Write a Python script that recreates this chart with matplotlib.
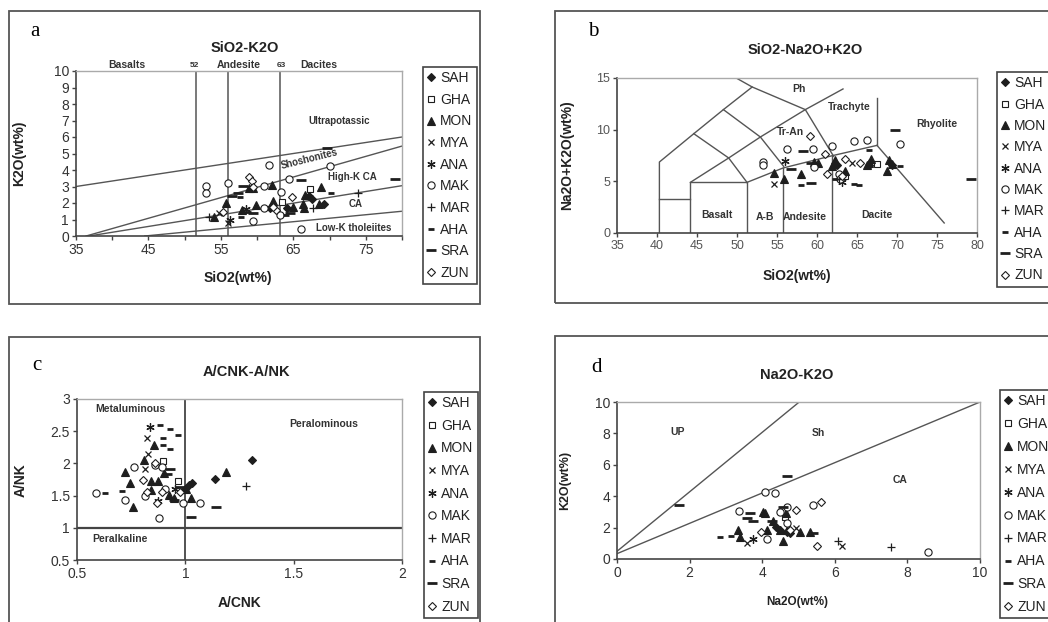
import matplotlib
matplotlib.use("Agg")
import matplotlib.pyplot as plt
from matplotlib.lines import Line2D
from matplotlib.patches import Rectangle

plt.rcParams['font.family'] = ['Liberation Sans', 'DejaVu Sans']

W, H = 1048, 622

# ---- series names ----
names = ["SAH", "GHA", "MON", "MYA", "ANA", "MAK", "MAR", "AHA", "SRA", "ZUN"]

# ---- panel a: SiO2 vs K2O ----
A_SAH = [(67.1, 2.42), (67.6, 2.22), (69.3, 1.92), (61.8, 1.70), (64.1, 1.68)]
A_GHA = [(67.3, 2.83), (63.5, 2.08)]
A_MON = [(55.7, 1.98), (57.9, 1.58), (59.9, 1.88), (62.0, 3.10), (62.2, 2.12),
         (64.9, 1.78), (66.3, 1.94), (66.6, 2.46), (68.8, 3.00), (68.6, 1.94),
         (54.1, 1.17), (58.9, 2.89), (59.5, 2.93), (66.5, 1.68)]
A_MYA = [(54.8, 1.37), (56.0, 0.81)]
A_ANA = [(56.2, 0.97), (58.5, 1.62)]
A_MAK = [(53.0, 3.05), (53.0, 2.60), (56.0, 3.20), (61.7, 4.30), (70.1, 4.25),
         (64.4, 3.45), (63.3, 2.65), (60.9, 3.05), (59.4, 0.93), (66.0, 0.44),
         (63.2, 1.30), (61.0, 1.68)]
A_MAR = [(53.3, 1.13), (73.9, 2.63), (67.7, 1.68)]
A_AHA = [(70.2, 2.58), (57.8, 1.17), (64.0, 1.27), (57.6, 2.38), (58.7, 1.47)]
A_SRA = [(58.0, 3.03), (79.0, 3.43), (69.7, 5.35), (66.1, 3.40), (57.3, 2.58),
         (56.6, 2.44), (59.5, 1.37), (64.5, 1.37)]
A_ZUN = [(58.9, 3.60), (59.3, 3.35), (59.5, 3.00), (64.8, 2.35), (55.3, 1.43),
         (62.6, 1.58), (62.2, 1.78)]

# ---- panel b: SiO2 vs Na2O+K2O ----
B_SAH = [(69.4, 6.6), (66.5, 6.6), (62.5, 6.6)]
B_GHA = [(67.5, 6.7), (63.5, 5.5)]
B_MON = [(54.6, 5.8), (55.9, 5.2), (58.0, 5.7), (60.1, 6.8), (59.6, 6.9),
         (62.1, 6.8), (62.2, 7.1), (61.9, 6.5), (63.5, 6.0), (66.5, 6.8),
         (66.7, 7.2), (66.3, 6.6), (69.0, 7.1), (68.75, 6.0), (69.4, 6.7)]
B_MYA = [(54.6, 4.7), (64.4, 6.8)]
B_ANA = [(56.0, 7.0), (63.1, 4.9)]
B_MAK = [(53.25, 6.87), (53.25, 6.55), (56.25, 8.1), (59.5, 8.1), (61.9, 8.4),
         (64.6, 8.9), (66.25, 9.0), (70.4, 8.6), (59.6, 6.35), (62.8, 5.7),
         (62.9, 5.2)]
B_MAR = [(62.7, 5.2)]
B_AHA = [(58.0, 4.6), (65.2, 4.6), (70.4, 6.5), (62.2, 5.2), (64.6, 4.7), (66.5, 8.0)]
B_SRA = [(69.8, 10.0), (79.2, 5.2), (58.25, 7.9), (59.3, 4.8), (56.75, 6.2), (59.2, 6.8)]
B_ZUN = [(59.1, 9.35), (61.0, 7.6), (61.25, 5.7), (63.5, 7.2), (65.4, 6.8), (63.1, 5.5)]

# ---- panel c: A/CNK vs A/NK ----
C_SAH = [(1.308, 2.06), (1.138, 1.76), (1.031, 1.69), (1.015, 1.66), (0.997, 1.61)]
C_GHA = [(0.966, 1.73), (0.895, 2.03)]
C_MON = [(0.723, 1.86), (0.746, 1.69), (0.757, 1.32), (0.808, 2.05), (0.857, 2.29),
         (0.843, 1.73), (0.874, 1.72), (0.842, 1.59), (0.923, 1.51), (0.946, 1.46),
         (1.028, 1.47), (1.189, 1.87), (1.005, 1.60), (0.900, 1.85)]
C_MYA = [(0.823, 2.40), (0.828, 2.15), (0.815, 1.92)]
C_ANA = [(0.835, 2.56), (0.874, 1.41), (0.954, 1.61)]
C_MAK = [(0.588, 1.54), (0.723, 1.43), (0.762, 1.95), (0.880, 1.15), (0.989, 1.39),
         (1.069, 1.39), (0.815, 1.49), (0.908, 1.61), (0.862, 1.98), (0.892, 1.95)]
C_MAR = [(1.280, 1.65)]
C_AHA = [(0.630, 1.54), (0.708, 1.57), (0.885, 2.60), (0.928, 2.54), (0.966, 2.44),
         (0.895, 2.40), (0.895, 2.29), (0.928, 2.22)]
C_SRA = [(1.028, 1.17), (1.142, 1.32), (0.931, 1.91), (0.915, 1.84), (0.946, 1.43),
         (0.977, 1.64)]
C_ZUN = [(0.805, 1.74), (0.869, 1.38), (0.892, 1.56), (0.862, 2.00), (0.977, 1.56),
         (0.823, 1.56)]

# ---- panel d: Na2O vs K2O ----
D_SAH = [(4.49, 1.86), (4.67, 1.75), (4.76, 1.65), (4.39, 2.07)]
D_GHA = [(4.62, 2.70)]
D_MON = [(3.34, 1.86), (4.03, 3.02), (4.07, 2.92), (4.12, 1.86), (4.29, 2.39),
         (4.49, 1.86), (4.58, 1.12), (4.65, 2.92), (5.04, 1.75), (5.31, 1.75),
         (4.67, 1.86), (3.40, 1.37)]
D_MYA = [(3.59, 1.01), (6.19, 0.85), (4.94, 1.97)]
D_ANA = [(3.75, 1.27)]
D_MAK = [(3.36, 3.04), (4.09, 4.25), (4.35, 4.19), (4.49, 3.02), (4.67, 3.34),
         (5.39, 3.45), (8.58, 0.44), (4.67, 2.28), (4.12, 1.27)]
D_MAR = [(6.09, 1.12), (7.56, 0.76)]
D_AHA = [(2.83, 1.40), (3.15, 1.44)]
D_SRA = [(4.67, 5.31), (1.71, 3.45), (3.66, 2.92), (3.57, 2.60), (3.75, 2.39),
         (5.40, 1.65), (4.58, 3.34), (4.26, 2.39)]
D_ZUN = [(5.63, 3.61), (5.51, 0.80), (4.94, 3.13), (3.96, 1.71), (4.76, 1.86)]

panel_a = [A_SAH, A_GHA, A_MON, A_MYA, A_ANA, A_MAK, A_MAR, A_AHA, A_SRA, A_ZUN]
panel_b = [B_SAH, B_GHA, B_MON, B_MYA, B_ANA, B_MAK, B_MAR, B_AHA, B_SRA, B_ZUN]
panel_c = [C_SAH, C_GHA, C_MON, C_MYA, C_ANA, C_MAK, C_MAR, C_AHA, C_SRA, C_ZUN]
panel_d = [D_SAH, D_GHA, D_MON, D_MYA, D_ANA, D_MAK, D_MAR, D_AHA, D_SRA, D_ZUN]

INK = "#1e1e1e"
LINE = "#555555"

# marker style per series
styles = {
    "SAH": dict(marker="D", ms=4.2, mfc=INK, mec=INK, mew=0.8),
    "GHA": dict(marker="s", ms=5.0, mfc="white", mec=INK, mew=0.8),
    "MON": dict(marker="^", ms=6.0, mfc=INK, mec=INK, mew=0.8),
    "MYA": dict(marker="x", ms=5.0, mfc=INK, mec=INK, mew=0.9),
    "ANA": dict(marker=(6, 2, 0), ms=6.0, mfc=INK, mec=INK, mew=0.9),
    "MAK": dict(marker="o", ms=5.2, mfc="white", mec=INK, mew=0.8),
    "MAR": dict(marker="+", ms=6.0, mfc=INK, mec=INK, mew=0.9),
    "AHA": dict(marker="_", ms=4.0, mfc=INK, mec=INK, mew=2.0),
    "SRA": dict(marker="_", ms=7.0, mfc=INK, mec=INK, mew=2.0),
    "ZUN": dict(marker="D", ms=4.2, mfc="white", mec=INK, mew=0.8),
}


def fx(x):
    return x / W


def fy(y):
    return 1 - y / H


def rect(l, t, r, b):
    return [fx(l), fy(b), (r - l) / W, (b - t) / H]


fig = plt.figure(figsize=(W / 100, H / 100), dpi=100)

# panel frames
for l, t, r, b in [(9, 11, 480, 304), (555, 11, 1060, 303),
                   (9, 337, 480, 640), (555, 336, 1060, 640)]:
    fig.patches.append(Rectangle((fx(l), fy(b)), (r - l) / W, (b - t) / H,
                                 transform=fig.transFigure, fill=False,
                                 ec=LINE, lw=1.3))


def style_axes(ax):
    for s in ["left", "bottom"]:
        ax.spines[s].set_color("#444444")
        ax.spines[s].set_linewidth(1.2)
    for s in ["top", "right"]:
        ax.spines[s].set_color("#aaaaaa")
        ax.spines[s].set_linewidth(1.0)
    ax.tick_params(direction="out", length=3, width=1, color="#444444",
                   labelsize=10, labelcolor="#333333", pad=2)


def scatter(ax, groups):
    handles = []
    for name, pts in zip(names, groups):
        xs = [p[0] for p in pts]
        ys = [p[1] for p in pts]
        ax.plot(xs, ys, ls="none", clip_on=False, **styles[name])
        handles.append(Line2D([], [], ls="none", label=name, **styles[name]))
    return handles


def add_legend(ax, handles, left, top, spacing):
    leg = ax.legend(handles=handles, loc="upper left",
                    bbox_to_anchor=(fx(left), fy(top)),
                    bbox_transform=fig.transFigure, frameon=True,
                    fancybox=False, edgecolor="#444444", framealpha=1,
                    fontsize=10, handlelength=0.6, handletextpad=0.35,
                    borderpad=0.3, labelspacing=spacing, borderaxespad=0)
    leg.get_frame().set_linewidth(1.2)
    for t in leg.get_texts():
        t.set_color("#222222")


def label(x, y, s, **kw):
    fig.text(fx(x), fy(y), s, ha="center", va="center", **kw)


bold = dict(fontweight="bold", color="#222222")

# ================= panel a =================
ax = fig.add_axes(rect(76, 71, 402, 236))
style_axes(ax)
ax.set_xlim(35, 80)
ax.set_ylim(0, 10)
ax.set_xticks(range(35, 81, 5))
ax.set_xticklabels([str(v) if (v - 35) % 10 == 0 else "" for v in range(35, 81, 5)])
ax.set_yticks(range(0, 11))
for xv in [51.6, 56.0, 63.2]:
    ax.axvline(xv, color=LINE, lw=1.1)
for xs, ys in [([35, 80], [3.0, 6.0]),
               ([36.4, 80], [0, 5.45]),
               ([36.8, 80], [0, 3.05]),
               ([44.5, 80], [0, 1.5])]:
    ax.plot(xs, ys, color=LINE, lw=1.0)
region = dict(fontsize=7, fontweight="bold", color="#333333", ha="center", va="center")
ax.text(71.3, 7.0, "Ultrapotassic", **region)
ax.text(67.2, 4.65, "Shoshonites", rotation=14, **region)
ax.text(73.1, 3.6, "High-K CA", **region)
ax.text(73.6, 1.95, "CA", **region)
ax.text(73.4, 0.5, "Low-K tholeiites", **region)
for xv, s, fs in [(42.0, "Basalts", 7.5), (51.3, "52", 6), (57.5, "Andesite", 7.5),
                  (63.3, "63", 6), (68.5, "Dacites", 7.5)]:
    ax.text(xv, 10.35, s, fontsize=fs, fontweight="bold", color="#333333",
            ha="center", va="center")
h = scatter(ax, panel_a)
add_legend(ax, h, 423, 67, 0.55)
label(245, 48, "SiO2-K2O", fontsize=10.5, **bold)
label(19, 153, "K2O(wt%)", fontsize=10, rotation=90, **bold)
label(238, 278, "SiO2(wt%)", fontsize=10, **bold)
label(35, 32, "a", fontsize=15, family="Liberation Serif")

# ================= panel b =================
ax = fig.add_axes(rect(617, 78, 977, 233))
style_axes(ax)
ax.tick_params(labelsize=9, labelcolor="#555555")
ax.set_xlim(35, 80)
ax.set_ylim(0, 15)
ax.set_xticks(range(35, 81, 5))
ax.set_yticks([0, 5, 10, 15])
tas = [
    ([40.3, 40.3, 44.6, 48.3, 51.9, 49.9], [0, 6.87, 9.61, 11.94, 14.13, 15.0]),
    ([44.6, 48.96, 51.25], [9.61, 7.26, 4.90]),
    ([48.3, 52.92, 55.83], [11.94, 9.29, 6.45]),
    ([44.17, 48.96, 52.92, 58.54, 63.25], [4.90, 7.26, 9.29, 11.94, 13.94]),
    ([51.9, 58.54, 62.08], [14.13, 11.94, 7.42]),
    ([51.25, 55.75, 61.9, 67.5], [4.90, 6.29, 7.48, 8.48]),
    ([44.17, 44.17, 51.25, 51.25], [0, 4.90, 4.90, 0]),
    ([55.75, 55.75], [0, 6.29]),
    ([61.9, 61.9], [0, 7.48]),
    ([67.5, 67.5], [8.48, 13.06]),
    ([67.5, 75.9], [8.48, 0.97]),
    ([40.3, 44.17], [3.29, 3.29]),
]
for xs, ys in tas:
    ax.plot(xs, ys, color=LINE, lw=1.0)
for xv, yv, s in [(57.7, 13.9, "Ph"), (64.0, 12.2, "Trachyte"), (75.0, 10.5, "Rhyolite"),
                  (56.7, 9.8, "Tr-An"), (47.5, 1.7, "Basalt"), (53.5, 1.55, "A-B"),
                  (58.5, 1.55, "Andesite"), (67.5, 1.7, "Dacite")]:
    ax.text(xv, yv, s, fontsize=7.5, fontweight="bold", color="#333333",
            ha="center", va="center")
h = scatter(ax, panel_b)
add_legend(ax, h, 997, 72, 0.53)
label(805, 50, "SiO2-Na2O+K2O", fontsize=10.5, **bold)
label(567, 155, "Na2O+K2O(wt%)", fontsize=10, rotation=90, **bold)
label(797, 276, "SiO2(wt%)", fontsize=10, **bold)
label(593, 32, "b", fontsize=15, family="Liberation Serif")

# ================= panel c =================
ax = fig.add_axes(rect(77, 399, 402, 560))
style_axes(ax)
ax.set_xlim(0.5, 2)
ax.set_ylim(0.5, 3)
ax.set_xticks([0.5, 1, 1.5, 2])
ax.set_xticklabels(["0.5", "1", "1.5", "2"])
ax.set_yticks([0.5, 1, 1.5, 2, 2.5, 3])
ax.set_yticklabels(["0.5", "1", "1.5", "2", "2.5", "3"])
ax.axvline(1.0, color="#444444", lw=1.3)
ax.axhline(1.0, color="#444444", lw=1.6)
for xv, yv, s in [(0.746, 2.84, "Metaluminous"), (1.64, 2.61, "Peralominous"),
                  (0.70, 0.83, "Peralkaline")]:
    ax.text(xv, yv, s, fontsize=7.5, fontweight="bold", color="#333333",
            ha="center", va="center")
h = scatter(ax, panel_c)
add_legend(ax, h, 424, 392, 0.62)
label(246, 372, "A/CNK-A/NK", fontsize=10.5, **bold)
label(21, 480, "A/NK", fontsize=10, rotation=90, **bold)
label(240, 603, "A/CNK", fontsize=10, **bold)
label(37, 366, "c", fontsize=15, family="Liberation Serif")

# ================= panel d =================
ax = fig.add_axes(rect(617, 402, 980, 559))
style_axes(ax)
ax.set_xlim(0, 10)
ax.set_ylim(0, 10)
ax.set_xticks(range(0, 11, 2))
ax.set_yticks(range(0, 11, 2))
ax.plot([0, 5.02], [0.49, 10], color=LINE, lw=1.0)
ax.plot([0, 10], [0.34, 10], color=LINE, lw=1.0)
for xv, yv, s in [(1.68, 8.1, "UP"), (5.56, 8.05, "Sh"), (7.8, 5.03, "CA")]:
    ax.text(xv, yv, s, fontsize=7.5, fontweight="bold", color="#333333",
            ha="center", va="center")
h = scatter(ax, panel_d)
add_legend(ax, h, 1000, 390, 0.64)
label(797, 375, "Na2O-K2O", fontsize=10.5, **bold)
label(565, 480, "K2O(wt%)", fontsize=9, rotation=90, **bold)
label(797, 602, "Na2O(wt%)", fontsize=8.5, **bold)
label(597, 367, "d", fontsize=15, family="Liberation Serif")

fig.savefig("out.png", dpi=100)
